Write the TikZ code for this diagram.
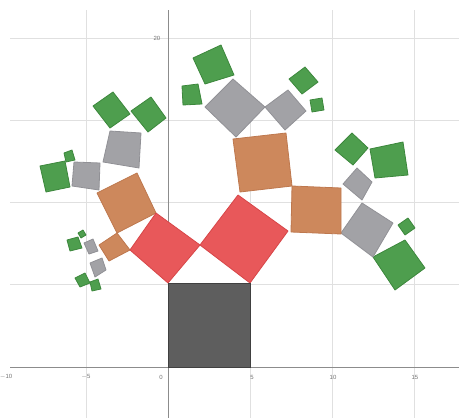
\documentclass[tikz,border=0pt]{standalone}
\usepackage{fontspec}
\setmainfont{Liberation Sans}
\begin{document}
\begin{tikzpicture}[x=1pt,y=-1pt,
  gridline/.style={draw=black!12,line width=0.8pt},
  axisline/.style={draw=black!45,line width=1pt},
  lbl/.style={text=black!55,font=\fontsize{6}{6}\selectfont,inner sep=0pt},
  trunk/.style={fill=black!63,draw=black!75,line width=0.8pt},
  redsq/.style={fill=red1,draw=red2,line width=0.8pt,line join=round},
  orsq/.style={fill=or1,draw=or2,line width=0.8pt,line join=round},
  grsq/.style={fill=gr1,draw=gr2,line width=0.8pt,line join=round},
  gnsq/.style={fill=gn1,draw=gn2,line width=0.8pt,line join=round}]
\definecolor{red1}{RGB}{232,88,90}
\definecolor{red2}{RGB}{215,70,72}
\definecolor{or1}{RGB}{205,136,92}
\definecolor{or2}{RGB}{190,120,78}
\definecolor{gr1}{RGB}{162,162,166}
\definecolor{gr2}{RGB}{145,145,150}
\definecolor{gn1}{RGB}{78,158,78}
\definecolor{gn2}{RGB}{60,135,60}
\useasboundingbox (0,0) rectangle (459,418);
% grid
\foreach \gx in {86,250,332,414} \draw[gridline] (\gx,10) -- (\gx,418);
\foreach \gy in {38,120,202,284} \draw[gridline] (10,\gy) -- (459,\gy);
\draw[axisline] (10,367) -- (459,367);
\draw[axisline] (168,10) -- (168,418);
% labels
\node[lbl] (lm10) at (6,377) {$-$10};
\node[lbl] (lm5) at (86,377) {$-$5};
\node[lbl] (l0) at (161,377) {0};
\node[lbl] (l5) at (252,377) {5};
\node[lbl] (l10) at (333,377) {10};
\node[lbl] (l15) at (415,377) {15};
\node[lbl] (l20) at (157,38) {20};
% greens
\draw[gnsq] (205,84) -- (193,58) -- (221,45) -- (234,75) -- cycle;
\draw[gnsq] (183,105) -- (182,86) -- (198,84) -- (202,104) -- cycle;
\draw[gnsq] (302,94) -- (289,79) -- (305,67) -- (318,82) -- cycle;
\draw[gnsq] (312,112) -- (310,100) -- (322,98) -- (324,110) -- cycle;
\draw[gnsq] (93,106) -- (113,92) -- (130,114) -- (110,128) -- cycle;
\draw[gnsq] (131,111) -- (151,97) -- (166,118) -- (148,132) -- cycle;
\draw[gnsq] (40,166) -- (65,161) -- (70,187) -- (46,192) -- cycle;
\draw[gnsq] (64,153) -- (72,150) -- (75,160) -- (66,162) -- cycle;
\draw[gnsq] (67,240) -- (78,237) -- (82,248) -- (70,251) -- cycle;
\draw[gnsq] (78,233) -- (83,230) -- (86,235) -- (81,238) -- cycle;
\draw[gnsq] (75,278) -- (85,273) -- (90,283) -- (80,287) -- cycle;
\draw[gnsq] (90,282) -- (98,279) -- (101,289) -- (92,291) -- cycle;
\draw[gnsq] (335,150) -- (352,133) -- (368,148) -- (353,165) -- cycle;
\draw[gnsq] (370,149) -- (403,142) -- (408,175) -- (375,178) -- cycle;
\draw[gnsq] (373,257) -- (405,240) -- (425,268) -- (395,290) -- cycle;
\draw[gnsq] (398,225) -- (408,218) -- (415,228) -- (405,235) -- cycle;
% grays
\draw[grsq] (236,137) -- (205,107) -- (233,79) -- (265,107) -- cycle;
\draw[grsq] (265,107) -- (288,90) -- (306,111) -- (285,130) -- cycle;
\draw[grsq] (103,162) -- (110,131) -- (141,133) -- (139,168) -- cycle;
\draw[grsq] (72,186) -- (74,162) -- (100,163) -- (99,190) -- cycle;
\draw[grsq] (84,243) -- (93,239) -- (98,251) -- (89,254) -- cycle;
\draw[grsq] (90,263) -- (102,258) -- (106,270) -- (95,277) -- cycle;
\draw[grsq] (343,184) -- (357,168) -- (372,182) -- (362,200) -- cycle;
\draw[grsq] (341,233) -- (362,203) -- (393,223) -- (373,257) -- cycle;
% oranges
\draw[orsq] (240,192) -- (292,186) -- (286,133) -- (233,139) -- cycle;
\draw[orsq] (292,186) -- (341,188) -- (341,234) -- (291,232) -- cycle;
\draw[orsq] (117,233) -- (156,213) -- (137,173) -- (97,193) -- cycle;
\draw[orsq] (130,250) -- (117,233) -- (99,245) -- (109,261) -- cycle;
% reds
\draw[redsq] (168,283) -- (200,245) -- (156,213) -- (130,250) -- cycle;
\draw[redsq] (200,245) -- (250,283) -- (288,231) -- (238,195) -- cycle;
% trunk
\draw[trunk] (168,283) rectangle (250,367);
\end{tikzpicture}
\end{document}
